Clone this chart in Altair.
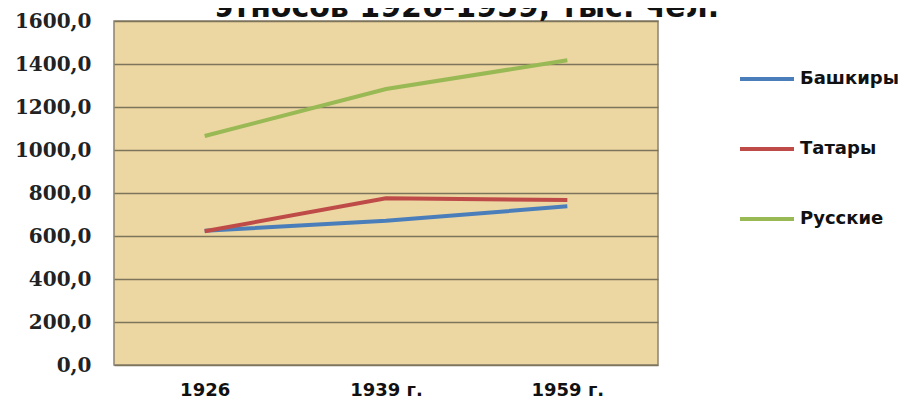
import altair as alt
import pandas as pd

years = ["1926", "1939 г.", "1959 г."]
series_names = ["Башкиры", "Татары", "Русские"]
bashkiry = [624.0, 671.0, 738.0]
tatary = [622.0, 775.0, 767.0]
russkie = [1065.0, 1284.0, 1417.0]
colors = ["#4a7ebb", "#be4b48", "#98b954"]
title_text = "этносов 1926-1959, тыс. чел."

rows = []
for name, vals in zip(series_names, [bashkiry, tatary, russkie]):
    for y, v in zip(years, vals):
        rows.append({"year": y, "series": name, "value": v})
df = pd.DataFrame(rows)

chart = alt.Chart(df).mark_line(strokeWidth=4).encode(
    x=alt.X("year:N", sort=years,
            scale=alt.Scale(type="point", padding=0.5),
            axis=alt.Axis(title=None, labelAngle=0, ticks=False, domain=False, grid=False,
                          labelFont="DejaVu Sans", labelFontWeight="bold", labelFontSize=18,
                          labelColor="#111111", labelPadding=16, labelBaseline="top")),
    y=alt.Y("value:Q", scale=alt.Scale(domain=[0, 1600], nice=False),
            axis=alt.Axis(title=None, values=[0, 200, 400, 600, 800, 1000, 1200, 1400, 1600],
                          labelExpr="replace(format(datum.value, '.1f'), '.', ',')",
                          ticks=False, domain=False, grid=True, gridColor="#7d745c",
                          gridWidth=1.5, labelFont="DejaVu Serif", labelFontWeight="bold",
                          labelFontSize=20, labelColor="#222222", labelPadding=23)),
    color=alt.Color("series:N", sort=series_names,
                    scale=alt.Scale(domain=series_names, range=colors),
                    legend=alt.Legend(title=None, orient="none", legendX=624, legendY=29,
                                      symbolType="stroke", symbolSize=2916, symbolStrokeWidth=4,
                                      labelFont="DejaVu Sans", labelFontWeight="bold",
                                      labelFontSize=18, labelColor="#111111", labelOffset=4,
                                      rowPadding=32, padding=0, labelLimit=200)),
).properties(
    width=544,
    height=344,
    autosize=alt.AutoSizeParams(type="none"),
    padding={"left": 106, "top": 13, "right": 240, "bottom": 39},
    background="white",
    title=alt.TitleParams(text=title_text, font="DejaVu Sans", fontWeight="bold", fontSize=30,
                          color="#111111", anchor="middle", frame="group", baseline="alphabetic",
                          offset=0, dx=81, dy=36),
).configure_view(fill="#ecd6a2", stroke="#8c8270", strokeWidth=1.5)

chart.save("out.html", embed_options={"renderer": "svg", "actions": False})
